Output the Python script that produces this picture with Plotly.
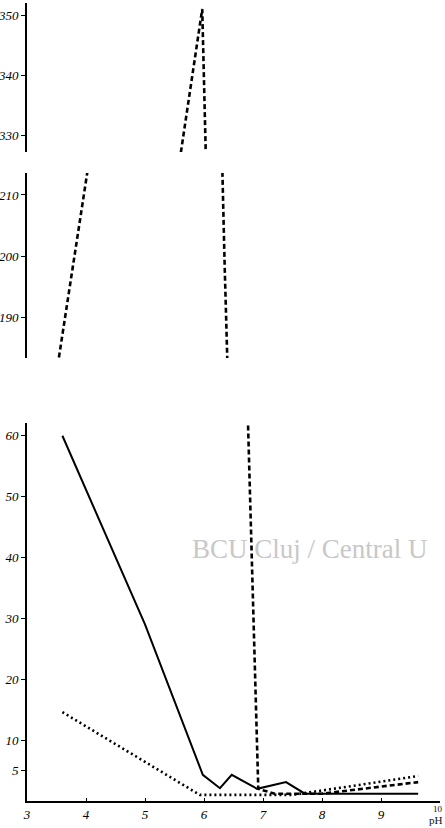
import plotly.graph_objects as go

# ---- data ----
dashed_ph = [3.5, 4.1, 5.5, 5.97, 6.35, 6.92, 7.2, 8.0, 9.63]
dashed_val = [180.8, 218.6, 320, 351, 198.5, 2.0, 1.2, 1.2, 3.1]

solid_ph = [3.6, 5.0, 5.98, 6.27, 6.47, 6.9, 7.39, 7.71, 9.63]
solid_val = [60, 29, 4.3, 2.1, 4.3, 2.0, 3.1, 1.2, 1.2]

dotted_ph = [3.6, 5.93, 7.5, 9.63]
dotted_val = [14.6, 1.0, 1.0, 4.1]

x_ticks = [3, 4, 5, 6, 7, 8, 9]
top_ticks = [330, 340, 350]
mid_ticks = [190, 200, 210]
low_ticks = [5, 10, 20, 30, 40, 50, 60]

FONT = "Liberation Serif"
TICKFONT = dict(family=FONT, size=13, color="#000", style="italic")

fig = go.Figure()

# dashed series drawn in every panel (clipped by each panel's range)
for ya in ["y", "y2", "y3"]:
    fig.add_trace(go.Scatter(x=dashed_ph, y=dashed_val, yaxis=ya, xaxis="x",
                             mode="lines", showlegend=False, hoverinfo="skip",
                             line=dict(color="black", width=2.6, dash="5px,3px")))

fig.add_trace(go.Scatter(x=solid_ph, y=solid_val, yaxis="y", xaxis="x",
                         mode="lines", showlegend=False, hoverinfo="skip",
                         line=dict(color="black", width=2)))
fig.add_trace(go.Scatter(x=dotted_ph, y=dotted_val, yaxis="y", xaxis="x",
                         mode="lines", showlegend=False, hoverinfo="skip",
                         line=dict(color="black", width=2.6, dash="2px,3px")))

yax_common = dict(showgrid=False, zeroline=False, showline=True, linecolor="black",
                  linewidth=1.6, ticks="outside", ticklen=4, tickcolor="black",
                  tickfont=TICKFONT, anchor="x", automargin=False)

PW = 445 - 27 - 5
PH = 828 - 3 - 27

fig.update_layout(
    template="none",
    width=445, height=828,
    margin=dict(l=27, r=5, t=3, b=27, autoexpand=False),
    paper_bgcolor="white", plot_bgcolor="white",
    xaxis=dict(range=[3, 10], showgrid=False, zeroline=False, showline=True,
               linecolor="black", linewidth=2, ticks="inside", ticklen=3,
               tickcolor="black", tickvals=x_ticks,
               ticktext=[str(v) for v in x_ticks], automargin=False,
               tickfont=TICKFONT, anchor="y"),
    yaxis=dict(domain=[0, 0.4737], range=[0, 62.1], tickvals=low_ticks, **yax_common),
    yaxis2=dict(domain=[0.5551, 0.7870], range=[183.3, 213.6], tickvals=mid_ticks, **yax_common),
    yaxis3=dict(domain=[0.8133, 1.0], range=[327.2, 352], tickvals=top_ticks, **yax_common),
    annotations=[
        dict(text="10", x=1, y=0, xref="paper", yref="paper", xanchor="right",
             yanchor="top", xshift=5, yshift=-1, showarrow=False,
             font=dict(family=FONT, size=9, color="#111")),
        dict(text="pH", x=1, y=0, xref="paper", yref="paper", xanchor="right",
             yanchor="top", xshift=5, yshift=-11, showarrow=False,
             font=dict(family=FONT, size=11, color="#111")),
        dict(text="BCU Cluj / Central U", x=(190 - 27) / PW, y=(801 - 549) / PH,
             xref="paper", yref="paper", xanchor="left", yanchor="middle",
             showarrow=False,
             font=dict(family=FONT, size=27, color="#c8c8c8")),
    ],
)

fig.write_html("out.html", config={"displayModeBar": False},
               post_script="document.body.style.margin='0px';")
